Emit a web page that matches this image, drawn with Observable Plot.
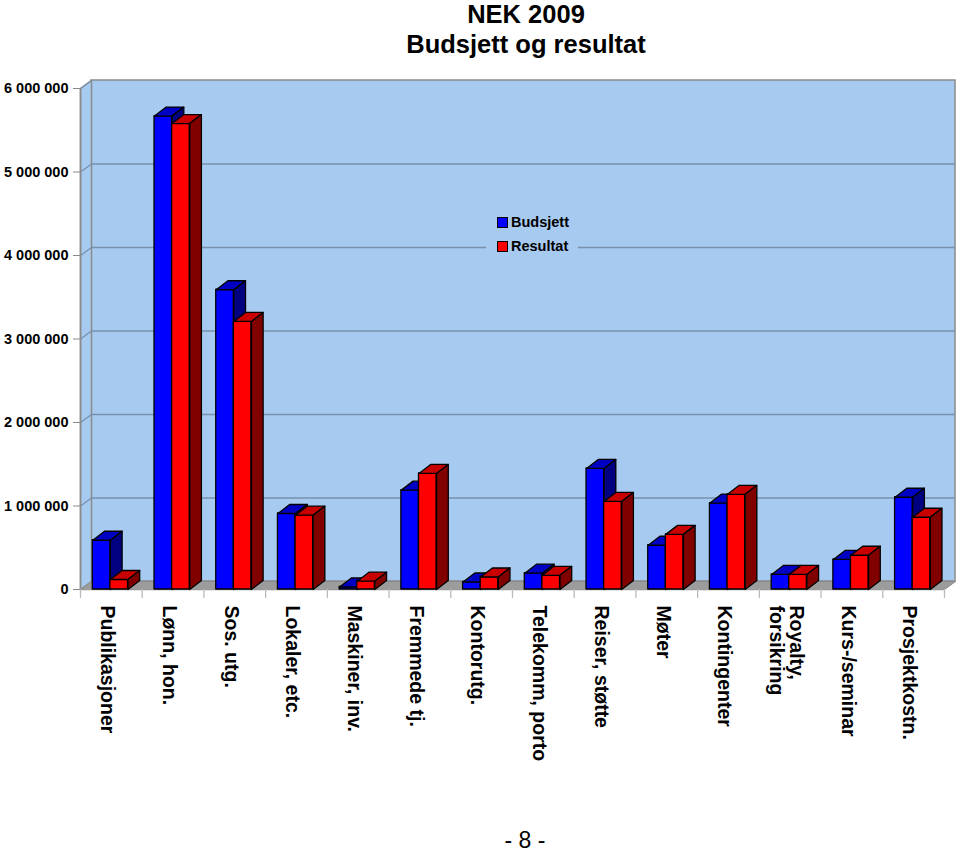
<!DOCTYPE html>
<html>
<head>
<meta charset="utf-8">
<script src="https://cdn.jsdelivr.net/npm/d3@7"></script>
<script src="https://cdn.jsdelivr.net/npm/@observablehq/plot@0.6"></script>
<style>
  html, body { margin: 0; padding: 0; background: #fff; }
  body { font-family: Arial, "Liberation Sans", Helvetica, sans-serif; }
  #wrap { position: relative; width: 960px; height: 853px; }
  #title { position: absolute; left: 326px; width: 400px; top: -1px; text-align: center;
           font-weight: bold; font-size: 25.5px; line-height: 30px; color: #000; }
  #footer { position: absolute; left: 425px; width: 200px; top: 829px; text-align: center;
            font-size: 23px; line-height: 22px; color: #000; }
  #legend { position: absolute; left: 486px; top: 210px; width: 92px; height: 48px;
            background: #a7cbf0; font-weight: bold; font-size: 14.5px; }
  .item { position: absolute; left: 11px; height: 16px; line-height: 16px; white-space: nowrap; }
  .sw { display: inline-block; width: 9px; height: 9px; border: 1px solid #000; vertical-align: -1px; margin-right: 3px; }
</style>
</head>
<body>
<div id="wrap">
  <div id="chart"></div>
  <div id="title">NEK 2009<br>Budsjett og resultat</div>
  <div id="legend"></div>
  <div id="footer">- 8 -</div>
</div>
<script>
// ---- data ----
const categories = ["Publikasjoner", "Lønn, hon.", "Sos. utg.", "Lokaler, etc.", "Maskiner, inv.",
  "Fremmede tj.", "Kontorutg.", "Telekomm, porto", "Reiser, støtte", "Møter",
  "Kontingenter", "Royalty,\nforsikring", "Kurs-/seminar", "Prosjektkostn."];
const budsjett = [590000, 5670000, 3590000, 910000, 30000, 1190000, 90000, 195000, 1450000, 530000, 1035000, 180000, 360000, 1105000];
const resultat = [120000, 5580000, 3210000, 890000, 100000, 1390000, 150000, 170000, 1055000, 660000, 1140000, 180000, 410000, 865000];
const seriesNames = ["Budsjett", "Resultat"];
const yTicks = [0, 1000000, 2000000, 3000000, 4000000, 5000000, 6000000];

// ---- geometry (pixel sizes converted into data units) ----
const N = categories.length;
const YMAX = 6000000;
const PX_X = N / 864;        // x units per pixel
const PX_Y = YMAX / 501;     // y units per pixel
const WALL_DX = 11 * PX_X, WALL_DY = 8 * PX_Y;
const BAR_DX = 11.7 * PX_X, BAR_DY = 9 * PX_Y;
const OFF = 12.3 * PX_X;     // gap before first bar in a slot
const BW = 17.6 * PX_X;      // bar width

const colors = [
  {front: "#0000ff", top: "#0000c4", side: "#000080"},
  {front: "#ff0000", top: "#c80000", side: "#800000"}
];
const series = [budsjett, resultat];

function barMarks(s) {
  const vals = series[s];
  const rows = vals.map((v, i) => {
    const x1 = i + OFF + s * BW;
    return {i, v, x1, x2: x1 + BW};
  });
  const tops = [], sides = [];
  rows.forEach(r => {
    const {i, v, x1, x2} = r;
    tops.push({id: i, x: x1, y: v}, {id: i, x: x2, y: v},
              {id: i, x: x2 + BAR_DX, y: v + BAR_DY}, {id: i, x: x1 + BAR_DX, y: v + BAR_DY});
    sides.push({id: i, x: x2, y: 0}, {id: i, x: x2 + BAR_DX, y: BAR_DY},
               {id: i, x: x2 + BAR_DX, y: v + BAR_DY}, {id: i, x: x2, y: v});
  });
  const c = colors[s];
  const st = {stroke: "#000", strokeWidth: 1.3, strokeLinejoin: "round"};
  return [
    Plot.rect(rows, {x1: "x1", x2: "x2", y1: 0, y2: "v", fill: c.front, ...st}),
    Plot.line(tops, {x: "x", y: "y", z: "id", curve: "linear-closed", fill: c.top, ...st}),
    Plot.line(sides, {x: "x", y: "y", z: "id", curve: "linear-closed", fill: c.side, ...st})
  ];
}

const wallFill = "#a7cbf0";
const wallStroke = "#8a8a8a";
const leftWall = [{x: 0, y: 0}, {x: 0, y: YMAX}, {x: WALL_DX, y: YMAX + WALL_DY}, {x: WALL_DX, y: WALL_DY}];
const floor = [{x: 0, y: 0}, {x: WALL_DX, y: WALL_DY}, {x: N + WALL_DX, y: WALL_DY}, {x: N, y: 0}];
const fmt = d => d3.format(",")(d).replace(/,/g, " ");

const chart = Plot.plot({
  width: 960,
  height: 853,
  marginLeft: 80,
  marginRight: 16,
  marginTop: 88,
  marginBottom: 264,
  x: {domain: [0, N]},
  y: {domain: [0, YMAX]},
  style: {fontFamily: "Arial, 'Liberation Sans', Helvetica, sans-serif", fontWeight: "bold", color: "#000", background: "transparent"},
  marks: [
    // back wall
    Plot.rect([0], {x1: WALL_DX, x2: N + WALL_DX, y1: WALL_DY, y2: YMAX + WALL_DY, fill: wallFill, stroke: wallStroke, strokeWidth: 1.5}),
    // left wall
    Plot.line(leftWall, {x: "x", y: "y", curve: "linear-closed", fill: wallFill, stroke: wallStroke, strokeWidth: 1.5}),
    // gridlines on back wall
    Plot.ruleY(yTicks.filter(t => t > 0 && t < YMAX), {y: d => d + WALL_DY, x1: WALL_DX, x2: N + WALL_DX, stroke: "#7890aa", strokeWidth: 1.3}),
    // diagonal tick connectors on the left wall
    Plot.link(yTicks.filter(t => t > 0), {x1: 0, y1: d => d, x2: WALL_DX, y2: d => d + WALL_DY, stroke: "#7890aa", strokeWidth: 1.3}),
    // floor
    Plot.line(floor, {x: "x", y: "y", curve: "linear-closed", fill: "#9c9c9c", stroke: "#8a8a8a", strokeWidth: 1}),
    // front vertical axis line
    Plot.ruleX([0], {y1: 0, y2: YMAX, stroke: wallStroke, strokeWidth: 1.5}),
    // category boundary ticks
    Plot.axisX({ticks: d3.range(N + 1), tickSize: 9, tickFormat: () => "", stroke: "#bbbbbb", strokeWidth: 1.3}),
    // category labels
    Plot.axisX({ticks: d3.range(N).map(i => i + 0.5), tickSize: 0, tickPadding: 16, tickRotate: 90,
      textAnchor: "start", lineAnchor: "middle", fontSize: 19.5, fontWeight: "bold", dx: -4,
      tickFormat: d => categories[Math.floor(d)]}),
    // y axis
    Plot.axisY({ticks: yTicks, tickSize: 7, tickPadding: 5, tickFormat: fmt, fontSize: 14.5, fontWeight: "bold", stroke: wallStroke}),
    // bars
    ...barMarks(0),
    ...barMarks(1)
  ]
});
document.getElementById("chart").appendChild(chart);

// legend
const legend = document.getElementById("legend");
seriesNames.forEach((name, k) => {
  const it = document.createElement("div");
  it.className = "item";
  it.style.top = (4 + k * 24) + "px";
  it.innerHTML = `<span class="sw" style="background:${colors[k].front}"></span>${name}`;
  legend.appendChild(it);
});
</script>
</body>
</html>
